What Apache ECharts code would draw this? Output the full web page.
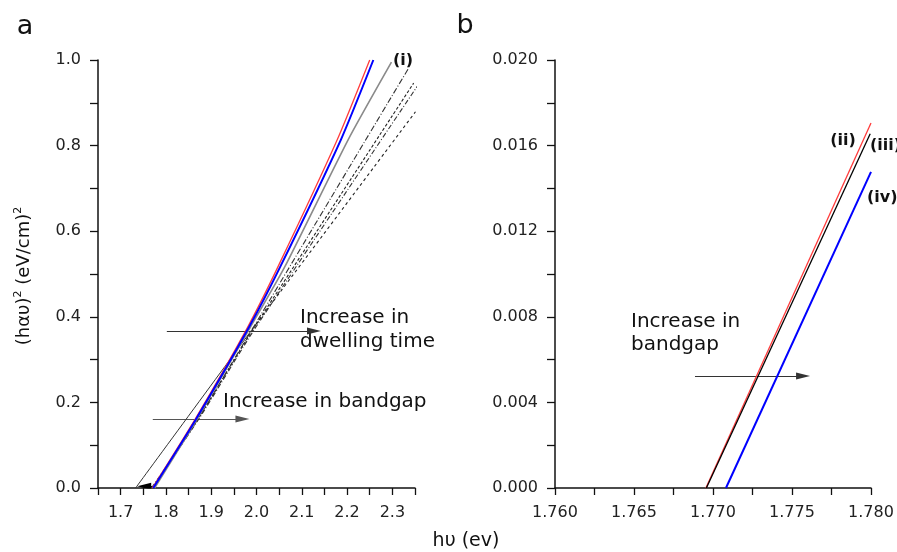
<!DOCTYPE html>
<html><head><meta charset="utf-8">
<script src="https://cdn.jsdelivr.net/npm/echarts@6/dist/echarts.min.js"></script>
<style>html,body{margin:0;padding:0;background:#fff}#c{width:897px;height:552px}</style>
</head><body><div id="c"></div>
<script>
// ---------- Panel a : (hαυ)^2 vs hυ ----------
const aRed     = [[1.770,0],[1.864,0.16],[1.980,0.375],[2.047,0.516],[2.178,0.813],[2.250,1.0]];
const aBlue    = [[1.772,0],[1.866,0.16],[1.983,0.375],[2.052,0.516],[2.186,0.813],[2.258,1.0]];
const aGrayI   = [[1.775,0],[1.868,0.16],[1.986,0.375],[2.062,0.516],[2.202,0.813],[2.298,0.995]];
const aDash1   = [[1.772,0],[1.870,0.16],[1.990,0.370],[2.336,0.981]];
const aDash3   = [[1.770,0],[1.870,0.16],[1.992,0.370],[2.347,0.946]];
const aDash2   = [[1.768,0],[1.872,0.16],[1.995,0.370],[2.373,0.967]];
const aTangent = [[1.733,0],[1.990,0.370]];
const aDash4   = [[1.990,0.370],[2.351,0.879]];
const aArrowDwell = [[1.802,0.367],[2.127,0.367]];
const aArrowGap   = [[1.771,0.161],[1.969,0.161]];
const aArrowInt   = [[1.772,0.004],[1.752,0.004]];
const xLabelsA = ['1.7','1.8','1.9','2.0','2.1','2.2','2.3'];
const yLabelsA = ['0.0','0.2','0.4','0.6','0.8','1.0'];

// ---------- Panel b : zoom near the intercept ----------
const bRed   = [[1.76955,0],[1.78000,0.01706]];
const bBlack = [[1.76958,0],[1.77995,0.01655]];
const bBlue  = [[1.77082,0],[1.78000,0.01477]];
const bArrowGap = [[1.76886,0.00523],[1.77570,0.00523]];
const xLabelsB = ['1.760','1.765','1.770','1.775','1.780'];
const yLabelsB = ['0.000','0.004','0.008','0.012','0.016','0.020'];

const FONT = 'DejaVu Sans';
const ARROW = 'path://M0,0 M14,14 M7,0 L10.5,14 L3.5,14 Z';

function mkAxis(grid, min, max, interval, labels, dec, isX) {
  return {
    type: 'value', gridIndex: grid, min: min, max: max, interval: interval,
    splitLine: { show: false },
    axisLine: { show: true, onZero: false, lineStyle: { color: '#111', width: 1.5 } },
    axisTick: { show: true, inside: false, length: isX ? 7 : 8, lineStyle: { color: '#111', width: 1.3 } },
    axisLabel: {
      margin: isX ? 17 : 17, fontFamily: FONT, fontSize: 16, color: '#222',
      formatter: function (v) {
        const s = v.toFixed(dec);
        return (labels.indexOf(s) >= 0 && Math.abs(parseFloat(s) - v) < 1e-9) ? s : '';
      }
    }
  };
}
function mkLine(xi, data, color, width, type) {
  return { type: 'line', xAxisIndex: xi, yAxisIndex: xi, data: data, showSymbol: false, symbol: 'none',
    clip: false, silent: true, smooth: 0.2,
    lineStyle: { color: color, width: width, type: type || 'solid' } };
}
function mkArrow(xi, coords, color) {
  return { type: 'lines', coordinateSystem: 'cartesian2d', xAxisIndex: xi, yAxisIndex: xi, silent: true,
    symbol: ['none', ARROW], symbolSize: 14,
    lineStyle: { color: color, width: 1, opacity: 1, curveness: 0 },
    data: [{ coords: coords }] };
}

const chart = echarts.init(document.getElementById('c'));
chart.setOption({
  animation: false,
  backgroundColor: '#fff',
  grid: [
    { left: 98, top: 60, width: 317, height: 428 },
    { left: 555, top: 60, width: 316, height: 428 }
  ],
  xAxis: [
    mkAxis(0, 1.65, 2.35, 0.05, xLabelsA, 1, true),
    mkAxis(1, 1.76, 1.78, 0.0025, xLabelsB, 3, true)
  ],
  yAxis: [
    mkAxis(0, 0, 1.0, 0.1, yLabelsA, 1, false),
    mkAxis(1, 0, 0.02, 0.002, yLabelsB, 3, false)
  ],
  series: [
    mkLine(0, aDash4, '#222', 1.1, [3, 3]),
    mkLine(0, aDash2, '#333', 1.1, [5, 2, 1, 2]),
    mkLine(0, aDash3, '#222', 1.1, [3, 2]),
    mkLine(0, aDash1, '#333', 1.1, [6, 2, 1, 2]),
    mkLine(0, aTangent, '#333', 1),
    mkLine(0, aGrayI, '#8a8a8a', 1.6),
    mkLine(0, aRed, '#ff3b3b', 1.3),
    mkLine(0, aBlue, '#0000ff', 2),
    mkArrow(0, aArrowDwell, '#333'),
    mkArrow(0, aArrowGap, '#555'),
    mkArrow(0, aArrowInt, '#000'),
    mkLine(1, bRed, '#ff3b3b', 1.3),
    mkLine(1, bBlack, '#000', 1.3),
    mkLine(1, bBlue, '#0000ff', 2),
    mkArrow(1, bArrowGap, '#333')
  ],
  graphic: [
    { type: 'text', x: 25, y: 27, style: { text: 'a', font: '27px "DejaVu Sans"', fill: '#111', align: 'center', verticalAlign: 'middle' } },
    { type: 'text', x: 465, y: 26, style: { text: 'b', font: '27px "DejaVu Sans"', fill: '#111', align: 'center', verticalAlign: 'middle' } },
    { type: 'text', x: 24, y: 276, rotation: Math.PI / 2,
      style: { text: '{n|(hαυ)}{s|2}{n| (eV/cm)}{s|2}', align: 'center', verticalAlign: 'middle', fill: '#111',
        rich: { n: { fontFamily: FONT, fontSize: 18, lineHeight: 22, fill: '#111' },
                s: { fontFamily: FONT, fontSize: 11, verticalAlign: 'top', lineHeight: 22, fill: '#111' } } } },
    { type: 'text', x: 466, y: 541, style: { text: 'hυ (ev)', font: '19px "DejaVu Sans"', fill: '#111', align: 'center', verticalAlign: 'middle' } },
    { type: 'text', x: 300, y: 318, style: { text: 'Increase in', font: '20px "DejaVu Sans"', fill: '#111', align: 'left', verticalAlign: 'middle' } },
    { type: 'text', x: 300, y: 342, style: { text: 'dwelling time', font: '20px "DejaVu Sans"', fill: '#111', align: 'left', verticalAlign: 'middle' } },
    { type: 'text', x: 223, y: 402, style: { text: 'Increase in bandgap', font: '20px "DejaVu Sans"', fill: '#111', align: 'left', verticalAlign: 'middle' } },
    { type: 'text', x: 631, y: 322, style: { text: 'Increase in', font: '20px "DejaVu Sans"', fill: '#111', align: 'left', verticalAlign: 'middle' } },
    { type: 'text', x: 631, y: 345, style: { text: 'bandgap', font: '20px "DejaVu Sans"', fill: '#111', align: 'left', verticalAlign: 'middle' } },
    { type: 'text', x: 393, y: 61, style: { text: '(i)', font: 'bold 16px "DejaVu Sans"', fill: '#111', align: 'left', verticalAlign: 'middle' } },
    { type: 'text', x: 843, y: 141, style: { text: '(ii)', font: 'bold 16px "DejaVu Sans"', fill: '#111', align: 'center', verticalAlign: 'middle' } },
    { type: 'text', x: 870, y: 146, style: { text: '(iii)', font: 'bold 16px "DejaVu Sans"', fill: '#111', align: 'left', verticalAlign: 'middle' } },
    { type: 'text', x: 867, y: 198, style: { text: '(iv)', font: 'bold 16px "DejaVu Sans"', fill: '#111', align: 'left', verticalAlign: 'middle' } }
  ]
});
</script></body></html>
